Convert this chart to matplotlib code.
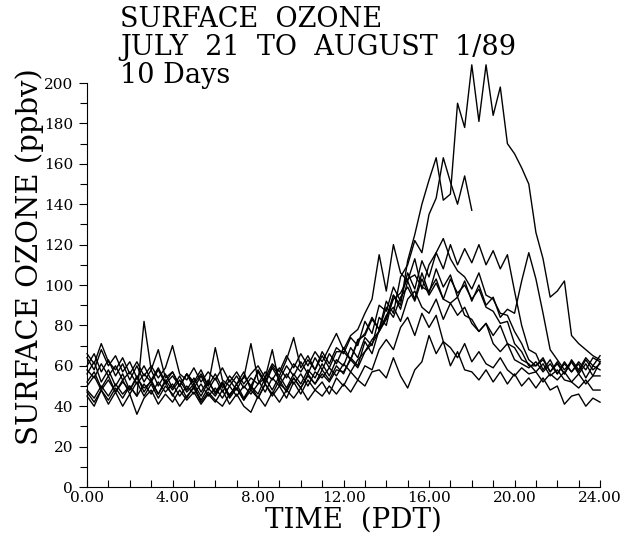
import numpy as np
import matplotlib
matplotlib.use("Agg")
import matplotlib.pyplot as plt
from matplotlib.ticker import MultipleLocator, FormatStrFormatter

# time grid: every 20 minutes, 0 to 24 h
hours = np.arange(73) / 3.0

# ozone (ppbv), one list per day: 3 values per hour (4 hours per row) + 24:00 value
day1 = [56, 62, 52, 58, 50, 56, 48, 55, 47, 53, 46, 52,
        45, 51, 44, 50, 43, 49, 45, 51, 44, 49, 43, 48,
        44, 51, 46, 53, 47, 54, 49, 56, 51, 58, 53, 60,
        56, 64, 60, 72, 66, 78, 84, 95, 90, 112, 125, 140,
        152, 163, 142, 145, 190, 178, 209, 181, 209, 184, 198, 170,
        165, 158, 150, 126, 113, 94, 97, 102, 75, 71, 68, 65,
        63]
day2 = [64, 58, 68, 60, 65, 57, 62, 54, 60, 53, 59, 52,
        57, 50, 56, 49, 55, 48, 54, 47, 53, 48, 55, 50,
        57, 51, 59, 53, 60, 55, 62, 56, 64, 58, 66, 61,
        69, 63, 72, 76, 84, 78, 92, 86, 104, 110, 122, 116,
        135, 143, 163, 151, 140, 154,
        137] + [np.nan] * 18
day3 = [45, 40, 48, 43, 49, 44, 50, 45, 82, 58, 50, 56,
        49, 55, 48, 54, 47, 53, 46, 52, 45, 51, 44, 50,
        46, 54, 48, 55, 49, 56, 51, 58, 54, 61, 55, 63,
        60, 69, 64, 74, 70, 84, 80, 95, 88, 102, 93, 106,
        96, 108, 99, 105, 94, 102, 92, 100, 90, 94, 84, 88,
        86, 102, 116, 103, 86, 68, 63, 58, 62, 56, 61, 55,
        62]
day4 = [60, 66, 57, 63, 55, 61, 53, 60, 52, 58, 68, 54,
        57, 50, 56, 52, 58, 50, 56, 49, 55, 51, 57, 48,
        58, 52, 60, 55, 63, 74, 59, 65, 58, 67, 61, 69,
        66, 74, 70, 82, 76, 90, 87, 99, 92, 106, 98, 112,
        104, 116, 108, 120, 110, 118, 111, 120, 110, 117, 108, 115,
        97, 80, 68, 66, 58, 63, 56, 62, 57, 61, 54, 60,
        58]
day5 = [47, 42, 48, 41, 47, 40, 46, 36, 44, 48, 41, 46,
        42, 48, 43, 47, 41, 46, 42, 48, 41, 46, 40, 37,
        45, 40, 47, 42, 48, 44, 49, 43, 48, 45, 50, 46,
        51, 47, 53, 50, 57, 58, 54, 64, 55, 49, 58, 62,
        75, 66, 72, 60, 67, 58, 57, 53, 58, 52, 57, 51,
        56, 50, 54, 49, 54, 48, 50, 41, 45, 46, 40, 44,
        42]
day6 = [52, 57, 49, 55, 47, 53, 46, 52, 45, 51, 44, 50,
        46, 40, 45, 49, 42, 47, 43, 40, 46, 49, 43, 50,
        44, 51, 45, 50, 44, 52, 46, 53, 48, 52, 46, 54,
        50, 57, 53, 60, 58, 68, 73, 68, 79, 84, 75, 86,
        79, 85, 72, 69, 64, 71, 62, 67, 61, 59, 64, 58,
        55, 59, 56, 57, 52, 56, 53, 57, 52, 56, 51, 55,
        55]
day7 = [66, 61, 71, 62, 58, 64, 56, 62, 55, 60, 54, 59,
        70, 56, 53, 59, 52, 57, 53, 59, 52, 57, 51, 56,
        60, 54, 61, 57, 65, 59, 66, 60, 67, 62, 69, 76,
        68, 75, 78, 86, 93, 115, 97, 120, 106, 102, 113, 98,
        110, 116, 123, 113, 107, 104, 98, 106, 95, 93, 86, 85,
        77, 71, 63, 60, 64, 57, 62, 56, 63, 58, 64, 60,
        65]
day8 = [58, 54, 61, 55, 60, 53, 57, 51, 56, 52, 58, 51,
        55, 50, 56, 51, 56, 50, 69, 53, 50, 55, 49, 54,
        51, 57, 53, 59, 54, 61, 57, 63, 58, 65, 59, 67,
        67, 63, 73, 75, 83, 78, 89, 84, 94, 99, 92, 103,
        95, 101, 93, 103, 96, 100, 93, 98, 89, 87, 81, 82,
        71, 67, 60, 60, 63, 57, 61, 56, 62, 57, 63, 58,
        61]
day9 = [50, 55, 48, 53, 47, 52, 48, 54, 49, 52, 46, 53,
        48, 53, 47, 51, 45, 52, 47, 52, 45, 51, 54, 71,
        53, 47, 54, 50, 56, 51, 56, 50, 57, 54, 59, 55,
        61, 57, 63, 67, 73, 77, 85, 89, 82, 93, 97, 89,
        86, 93, 83, 91, 85, 89, 81, 77, 81, 71, 67, 71,
        63, 61, 59, 62, 57, 61, 56, 61, 57, 62, 58, 64,
        62]
day10 = [48, 44, 50, 45, 51, 46, 50, 45, 51, 46, 52, 47,
         51, 45, 50, 46, 51, 45, 49, 44, 50, 45, 50, 46,
         51, 54, 68, 51, 48, 54, 49, 55, 51, 56, 52, 58,
         57, 63, 59, 67, 71, 77, 83, 93, 96, 103, 105, 99,
         97, 103, 93, 91, 94, 85, 83, 77, 81, 75, 80, 71,
         69, 63, 61, 57, 61, 55, 58, 53, 52, 49, 53, 48,
         48]

days = [day1, day2, day3, day4, day5, day6, day7, day8, day9, day10]

title_lines = ["SURFACE  OZONE", "JULY  21  TO  AUGUST  1/89", "10 Days"]
x_ticks = [0, 4, 8, 12, 16, 20, 24]
y_ticks = [0, 20, 40, 60, 80, 100, 120, 140, 160, 180, 200]

plt.rcParams['font.family'] = 'DejaVu Serif'

fig = plt.figure(figsize=(6.27, 5.37), dpi=100)
ax = fig.add_axes([0.1388, 0.0931, 0.8182, 0.7523])

for d in days:
    ax.plot(hours, d, color='black', lw=1.0, clip_on=False)

ax.set_xlim(0, 24)
ax.set_ylim(0, 200)
ax.spines['top'].set_visible(False)
ax.spines['right'].set_visible(False)

ax.set_xticks(x_ticks)
ax.xaxis.set_minor_locator(MultipleLocator(1))
ax.xaxis.set_major_formatter(FormatStrFormatter('%.2f'))
ax.tick_params(axis='x', which='both', direction='in', length=5, width=0.8, pad=3, labelsize=11)

ax.set_yticks(y_ticks)
ax.yaxis.set_minor_locator(MultipleLocator(10))
ax.tick_params(axis='y', which='major', direction='out', length=6, width=0.8, pad=4, labelsize=11)
ax.tick_params(axis='y', which='minor', direction='out', length=5, width=0.8)

for i, line in enumerate(title_lines):
    fig.text(0.1914, 0.9497 - i * 0.0521, line, fontsize=19.5, va='baseline', ha='left')

fig.text(0.048, 0.5214, "SURFACE OZONE (ppbv)", rotation=90, fontsize=21, ha='center', va='center')
fig.text(0.563, 0.0317, "TIME  (PDT)", fontsize=20, ha='center', va='center')

fig.savefig('out.png', dpi=100)
